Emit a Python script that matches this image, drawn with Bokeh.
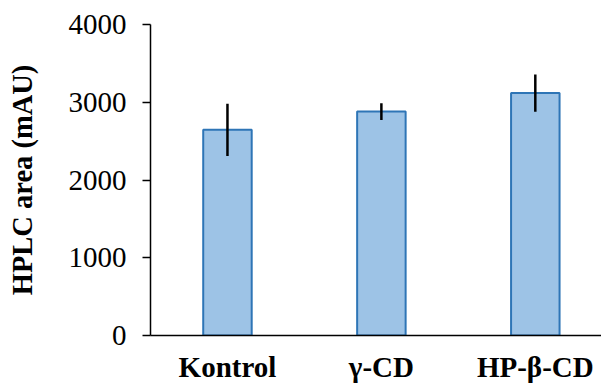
from bokeh.plotting import figure
from bokeh.models import Range1d, FixedTicker, ColumnDataSource
from bokeh.embed import file_html
from bokeh.resources import INLINE

categories = ["Kontrol", "γ-CD", "HP-β-CD"]
values = [2645, 2880, 3118]
errors = [335, 108, 240]
y_ticks = [0, 1000, 2000, 3000, 4000]

xs = list(range(len(categories)))
src = ColumnDataSource(dict(
    x=xs,
    top=values,
    lower=[v - e for v, e in zip(values, errors)],
    upper=[v + e for v, e in zip(values, errors)],
))

FONT = "'Liberation Serif', 'Times New Roman', serif"

p = figure(width=601, height=385, output_backend="svg", toolbar_location=None,
           x_range=Range1d(-0.5, 2.43), y_range=Range1d(0, 4000),
           min_border_left=150, min_border_right=0, min_border_top=24, min_border_bottom=49)
p.outline_line_color = None
p.xgrid.visible = False
p.ygrid.visible = False
p.background_fill_color = "white"
p.border_fill_color = "white"

p.vbar(x="x", top="top", width=0.315, source=src,
       fill_color="#9DC3E6", line_color="#2E75B6", line_width=2)
p.segment(x0="x", y0="lower", x1="x", y1="upper", source=src,
          line_color="black", line_width=2.5)

# y axis
ya = p.yaxis[0]
ya.ticker = FixedTicker(ticks=y_ticks)
ya.minor_tick_line_color = None
ya.major_tick_in = 0
ya.major_tick_out = 8
ya.major_tick_line_color = "black"
ya.major_tick_line_width = 1.5
ya.axis_line_color = "black"
ya.axis_line_width = 1.5
ya.major_label_text_font = FONT
ya.major_label_text_font_size = "29px"
ya.major_label_text_color = "black"
ya.major_label_standoff = 16
ya.axis_label = "HPLC area (mAU)"
ya.axis_label_text_font = FONT
ya.axis_label_text_font_style = "bold"
ya.axis_label_text_font_size = "28.5px"
ya.axis_label_text_color = "black"
ya.axis_label_standoff = 28

# x axis
xa = p.xaxis[0]
xa.ticker = FixedTicker(ticks=xs)
xa.major_label_overrides = {i: c for i, c in zip(xs, categories)}
xa.minor_tick_line_color = None
xa.major_tick_line_color = None
xa.major_tick_in = 0
xa.major_tick_out = 0
xa.axis_line_color = "black"
xa.axis_line_width = 1.5
xa.major_label_text_font = FONT
xa.major_label_text_font_style = "bold"
xa.major_label_text_font_size = "29px"
xa.major_label_text_color = "black"
xa.major_label_standoff = 15

open("out.html", "w").write(file_html(p, INLINE))
